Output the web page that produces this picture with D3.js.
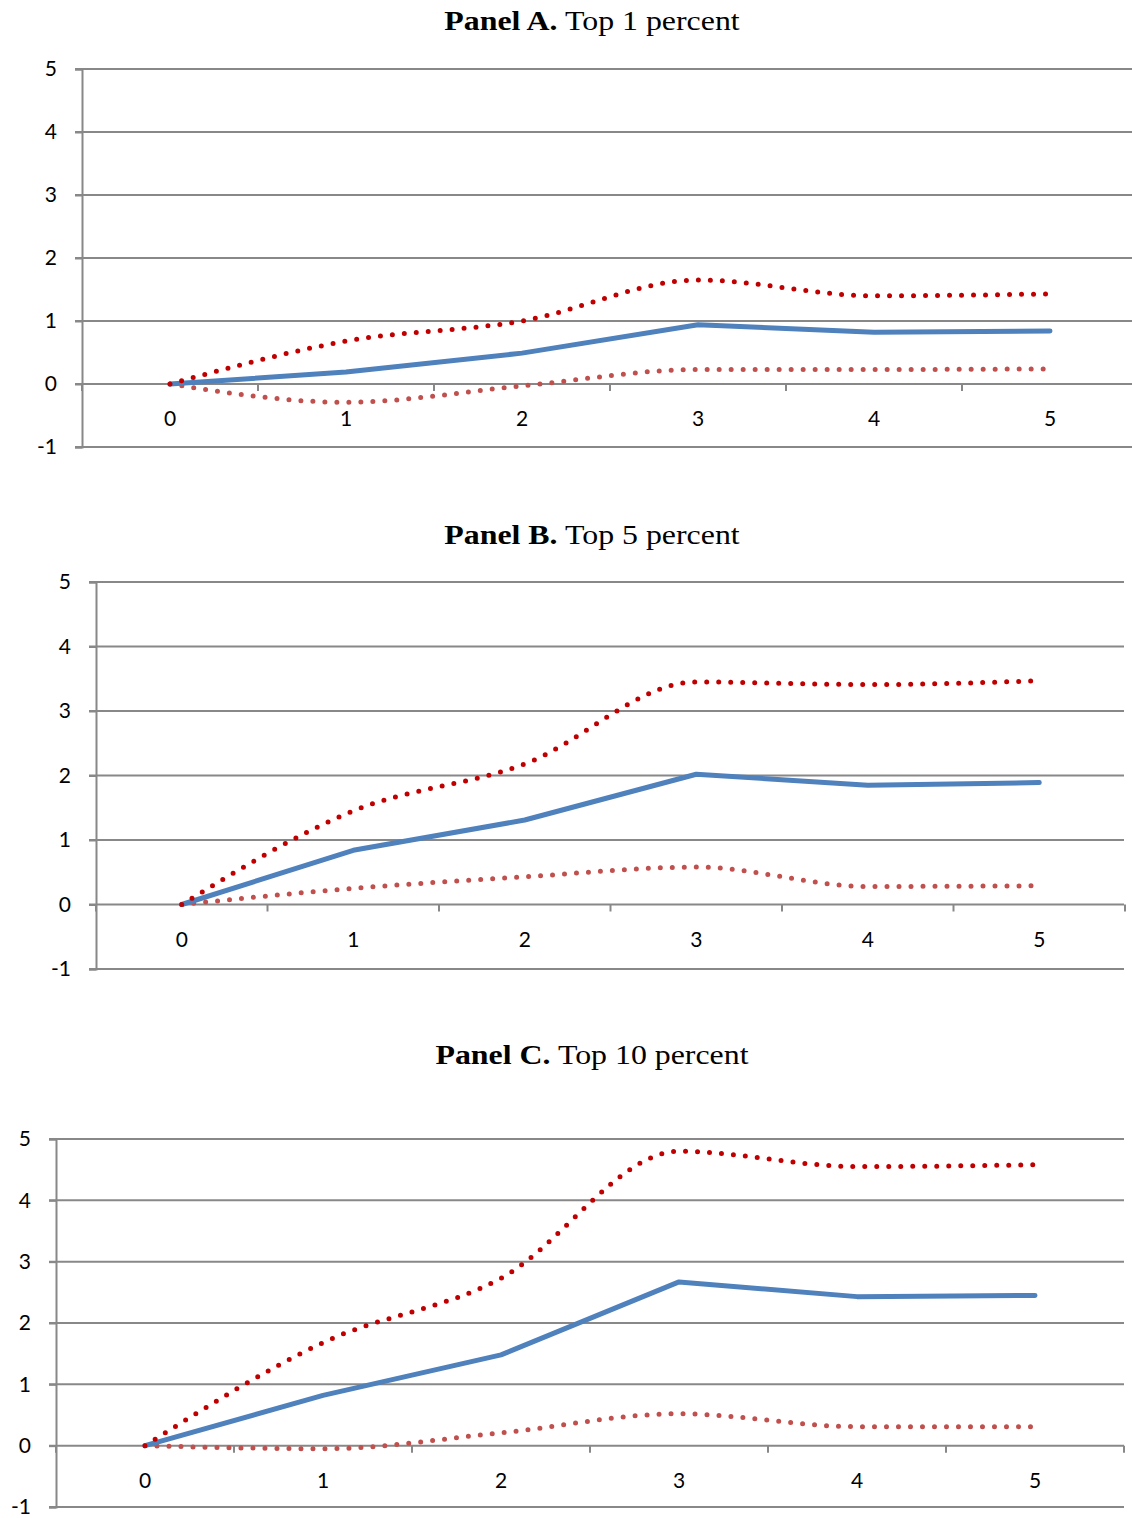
<!DOCTYPE html>
<html>
  <head>
    <meta charset="utf-8">
    <title>Top income shares</title>
    <script src="https://d3js.org/d3.v7.min.js"></script>
    <style>
      body{
        margin: 0;
        background: #fff;
      }
      .title{
        font-family: "Liberation Serif", "Times New Roman", serif;
        font-size: 27px;
        fill: #000;
      }
      .axis text{
        font-family: Lato, "Open Sans", sans-serif;
        font-size: 21px;
        fill: #000;
      }
    </style>
  </head>
  <body>
    <div id="container"></div>
    <script>

      // DATA
      const years = [0, 1, 2, 3, 4, 5];
      const yTicks = [-1, 0, 1, 2, 3, 4, 5];

      const top1Mid   = [0, 0.19, 0.49, 0.94, 0.82, 0.84];
      const top1Upper = [0, 0.68, 1.00, 1.65, 1.40, 1.43];
      const top1Lower = [0, -0.29, -0.03, 0.23, 0.23, 0.24];

      const top5Mid   = [0, 0.84, 1.31, 2.02, 1.85, 1.89];
      const top5Upper = [0, 1.45, 2.18, 3.45, 3.41, 3.47];
      const top5Lower = [0, 0.25, 0.43, 0.58, 0.28, 0.29];

      const top10Mid   = [0, 0.82, 1.48, 2.67, 2.43, 2.45];
      const top10Upper = [0, 1.68, 2.73, 4.80, 4.55, 4.58];
      const top10Lower = [0, -0.05, 0.21, 0.52, 0.31, 0.31];

      const panelNames = ["Panel A.", "Panel B.", "Panel C."];
      const panelSubs  = [" Top 1 percent", " Top 5 percent", " Top 10 percent"];

      // SVG
      const svg = d3.select("#container")
        .append("svg")
        .attr("width", 1132)
        .attr("height", 1518);

      // LAYOUT OF EACH PANEL (pixels)
      const panels = [
        { name: panelNames[0], sub: panelSubs[0], mid: top1Mid, upper: top1Upper, lower: top1Lower,
          left: 82, right: 1138, top: 69, bottom: 447, titleY: 30, gridEnd: 1132 },
        { name: panelNames[1], sub: panelSubs[1], mid: top5Mid, upper: top5Upper, lower: top5Lower,
          left: 96, right: 1125, top: 582, bottom: 969, titleY: 544, gridEnd: 1124 },
        { name: panelNames[2], sub: panelSubs[2], mid: top10Mid, upper: top10Upper, lower: top10Lower,
          left: 56, right: 1124, top: 1139, bottom: 1507, titleY: 1064, gridEnd: 1124 }
      ];

      const gridColor = "#888";

      panels.forEach(p => {
        const g = svg.append("g");

        const x = d3.scaleBand()
          .domain(years)
          .range([p.left, p.right]);
        const y = d3.scaleLinear()
          .domain([-1, 5])
          .range([p.bottom, p.top]);
        const cx = d => x(d) + x.bandwidth() / 2;

        // TITLE (the original is set a little wide)
        const t = g.append("text")
          .attr("class", "title")
          .attr("x", 592)
          .attr("y", p.titleY)
          .attr("text-anchor", "middle");
        t.append("tspan").attr("font-weight", "bold").text(p.name);
        t.append("tspan").text(p.sub);
        const len = t.node().getComputedTextLength();
        t.attr("textLength", len * 1.18).attr("lengthAdjust", "spacingAndGlyphs");

        // GRIDLINES
        g.selectAll(".grid")
          .data(yTicks)
          .enter()
          .append("line")
          .attr("class", "grid")
          .attr("x1", p.left - 7)
          .attr("x2", p.gridEnd)
          .attr("y1", d => y(d))
          .attr("y2", d => y(d))
          .attr("stroke", gridColor)
          .attr("stroke-width", 2);

        // Y-AXIS
        const yAxis = g.append("g")
          .attr("class", "axis")
          .attr("transform", "translate(" + p.left + ",0)")
          .call(d3.axisLeft(y).tickValues(yTicks).tickFormat(d => String(d)).tickSize(7).tickPadding(18));
        yAxis.select(".domain").attr("stroke", gridColor).attr("stroke-width", 2);
        yAxis.selectAll(".tick line").attr("stroke", gridColor).attr("stroke-width", 2);

        // X-AXIS: ticks at category boundaries, labels at centres
        const bounds = years.map(d => x(d) + x.bandwidth()).concat([x(0)]);
        g.selectAll(".xtick")
          .data(bounds)
          .enter()
          .append("line")
          .attr("class", "xtick")
          .attr("x1", d => d)
          .attr("x2", d => d)
          .attr("y1", y(0))
          .attr("y2", y(0) + 7)
          .attr("stroke", gridColor)
          .attr("stroke-width", 2);

        g.append("g")
          .attr("class", "axis")
          .selectAll("text")
          .data(years)
          .enter()
          .append("text")
          .attr("x", d => cx(d))
          .attr("y", y(0) + 35)
          .attr("dy", "0.35em")
          .attr("text-anchor", "middle")
          .text(d => d);

        // LINES
        const straight = d3.line()
          .x((d, i) => cx(years[i]))
          .y(d => y(d));
        const smooth = d3.line()
          .x((d, i) => cx(years[i]))
          .y(d => y(d))
          .curve(d3.curveMonotoneX);

        g.append("path")
          .attr("d", smooth(p.lower))
          .attr("fill", "none")
          .attr("stroke", "#C0504D")
          .attr("stroke-width", 5)
          .attr("stroke-linecap", "round")
          .attr("stroke-dasharray", "0 12");

        g.append("path")
          .attr("d", straight(p.mid))
          .attr("fill", "none")
          .attr("stroke", "#4F81BD")
          .attr("stroke-width", 5)
          .attr("stroke-linecap", "round")
          .attr("stroke-linejoin", "round");

        g.append("path")
          .attr("d", smooth(p.upper))
          .attr("fill", "none")
          .attr("stroke", "#C00000")
          .attr("stroke-width", 5)
          .attr("stroke-linecap", "round")
          .attr("stroke-dasharray", "0 12");
      });

    </script>
  </body>
</html>
